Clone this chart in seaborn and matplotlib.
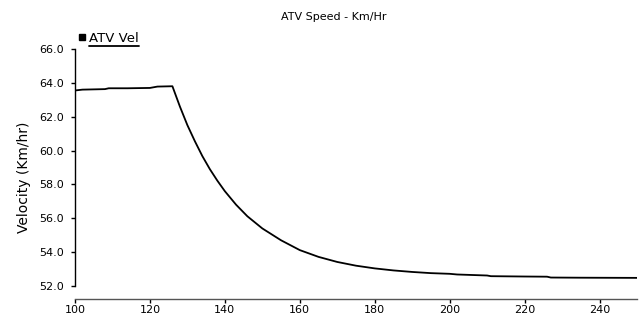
import matplotlib
matplotlib.use("Agg")
import matplotlib.pyplot as plt
import seaborn as sns
import pandas as pd
from matplotlib.lines import Line2D

time_s = [100, 102, 108, 109, 114, 120, 122, 126, 128, 130, 132, 134, 136, 138, 140,
          143, 146, 150, 155, 160, 165, 170, 175, 180, 185, 190, 195, 200,
          202, 210, 211, 220, 226, 227, 235, 250]
velocity = [63.55, 63.6, 63.63, 63.68, 63.68, 63.7, 63.78, 63.8, 62.6, 61.5, 60.55, 59.67,
            58.9, 58.22, 57.6, 56.8, 56.12, 55.4, 54.7, 54.12, 53.72, 53.42, 53.2,
            53.04, 52.92, 52.83, 52.76, 52.72, 52.68, 52.62, 52.58, 52.56, 52.55,
            52.5, 52.49, 52.48]
series_name = "ATV Vel"
title = "ATV Speed - Km/Hr"
y_label = "Velocity (Km/hr)"
y_ticks = [52, 54, 56, 58, 60, 62, 64, 66]
x_ticks = [100, 120, 140, 160, 180, 200, 220, 240]

df = pd.DataFrame({"t": time_s, "v": velocity})

sns.set_theme(style="ticks")
plt.rcParams["font.family"] = ["DejaVu Sans"]
plt.rcParams["text.color"] = "black"
plt.rcParams["axes.labelcolor"] = "black"

fig = plt.figure(figsize=(6.39, 3.2), dpi=100)
ax = fig.add_axes([75/639, 1-286/320, (637-75)/639, (286-49)/320])
sns.lineplot(data=df, x="t", y="v", ax=ax, color="black", linewidth=1.3)
ax.set_xlim(100, 250)
ax.set_ylim(52, 66)
ax.set_xticks(x_ticks)
ax.set_yticks(y_ticks)
ax.set_yticklabels([f"{v:.1f}" for v in y_ticks])
ax.set_xlabel("")
ax.set_ylabel(y_label, fontsize=10, color="black")
ax.yaxis.set_label_coords(-0.078, 0.46)
for s in ["top", "right"]:
    ax.spines[s].set_visible(False)
ax.spines["bottom"].set_position(("outward", 9.4))
ax.spines["left"].set_color("black")
ax.spines["bottom"].set_color("#555555")
ax.spines["left"].set_linewidth(1.0)
ax.spines["bottom"].set_linewidth(1.0)
ax.tick_params(axis="y", labelsize=8, length=3, width=1, color="black", labelcolor="black", pad=5)
ax.tick_params(axis="x", labelsize=8, length=3, width=1, color="black", labelcolor="black", pad=1)

fig.text(334/639, 1-17/320, title, ha="center", va="center", fontsize=8, color="black")

handle = Line2D([], [], marker="s", color="black", linestyle="none", markersize=4.5)
leg = ax.legend([handle], [series_name], loc="center left",
                bbox_to_anchor=(3/562, (286-38)/237),
                frameon=False, fontsize=9.5, handletextpad=0.25, handlelength=0.6,
                borderaxespad=0, borderpad=0, labelcolor="black")
fig.add_artist(Line2D([89/639, 139/639], [1-46/320, 1-46/320], color="black", linewidth=1.3))

fig.savefig("out.png", dpi=100)
